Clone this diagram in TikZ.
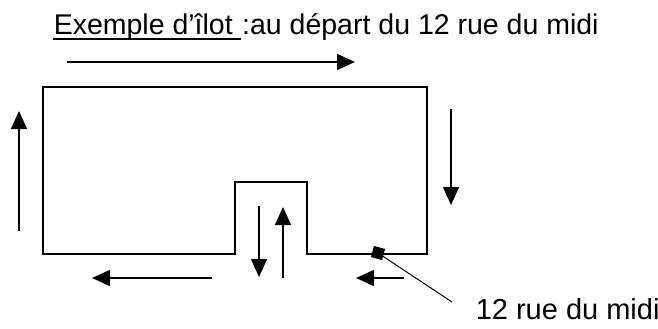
\documentclass[tikz,border=0pt]{standalone}
\usepackage{fontspec}
\setmainfont{Liberation Sans}
\usetikzlibrary{arrows.meta}
\tikzset{sens/.style={draw, line width=1.5pt, -{Triangle[length=18pt, width=16pt]}}}

\begin{document}
\begin{tikzpicture}[x=1pt, y=-1pt, line width=1.5pt,
    texte/.style={inner sep=0pt, anchor=base west, font=\fontsize{29}{33}\selectfont}]
        \useasboundingbox (0, 0) rectangle (658, 329);

        % titre
        \node[texte, font=\fontsize{28.5}{33}\selectfont] (titreA) at (53, 35) {Exemple d’îlot\hspace*{0.278em}};
        \node[texte, font=\fontsize{28.5}{33}\selectfont] (titreB) at (titreA.base east) {:au départ du 12 rue du midi};
        \draw ([yshift=-4]titreA.base west) -- ([yshift=-4]titreA.base east);

        % ilot
        \draw (43, 87) -- (427, 87) -- (427, 254) -- (307, 254) -- (307, 182)
            -- (235, 182) -- (235, 254) -- (43, 254) -- cycle;

        % sens de parcours
        \coordinate (hautA) at (67, 62);   \coordinate (hautB) at (355, 62);
        \coordinate (droiteA) at (451, 109); \coordinate (droiteB) at (451, 205);
        \coordinate (gaucheA) at (19, 231); \coordinate (gaucheB) at (19, 111);
        \coordinate (basGA) at (212, 278); \coordinate (basGB) at (92, 278);
        \coordinate (basDA) at (404, 278); \coordinate (basDB) at (356, 278);
        \coordinate (descA) at (259, 206); \coordinate (descB) at (259, 277);
        \coordinate (montA) at (283, 278); \coordinate (montB) at (283, 207);
        \foreach \a/\b in {hautA/hautB, droiteA/droiteB, gaucheA/gaucheB,
            basGA/basGB, basDA/basDB, descA/descB, montA/montB}
            \path[sens] (\a) -- (\b);

        % depart
        \node[draw, fill, inner sep=0pt, minimum size=10pt, rotate=-15] (depart) at (378, 253) {};
        \node[texte] (adresse) at (475, 319) {12 rue du midi};
        \coordinate (renvoi) at (452, 302);
        \draw[line width=1pt] (depart) -- (renvoi);
    \end{tikzpicture}
\end{document}
